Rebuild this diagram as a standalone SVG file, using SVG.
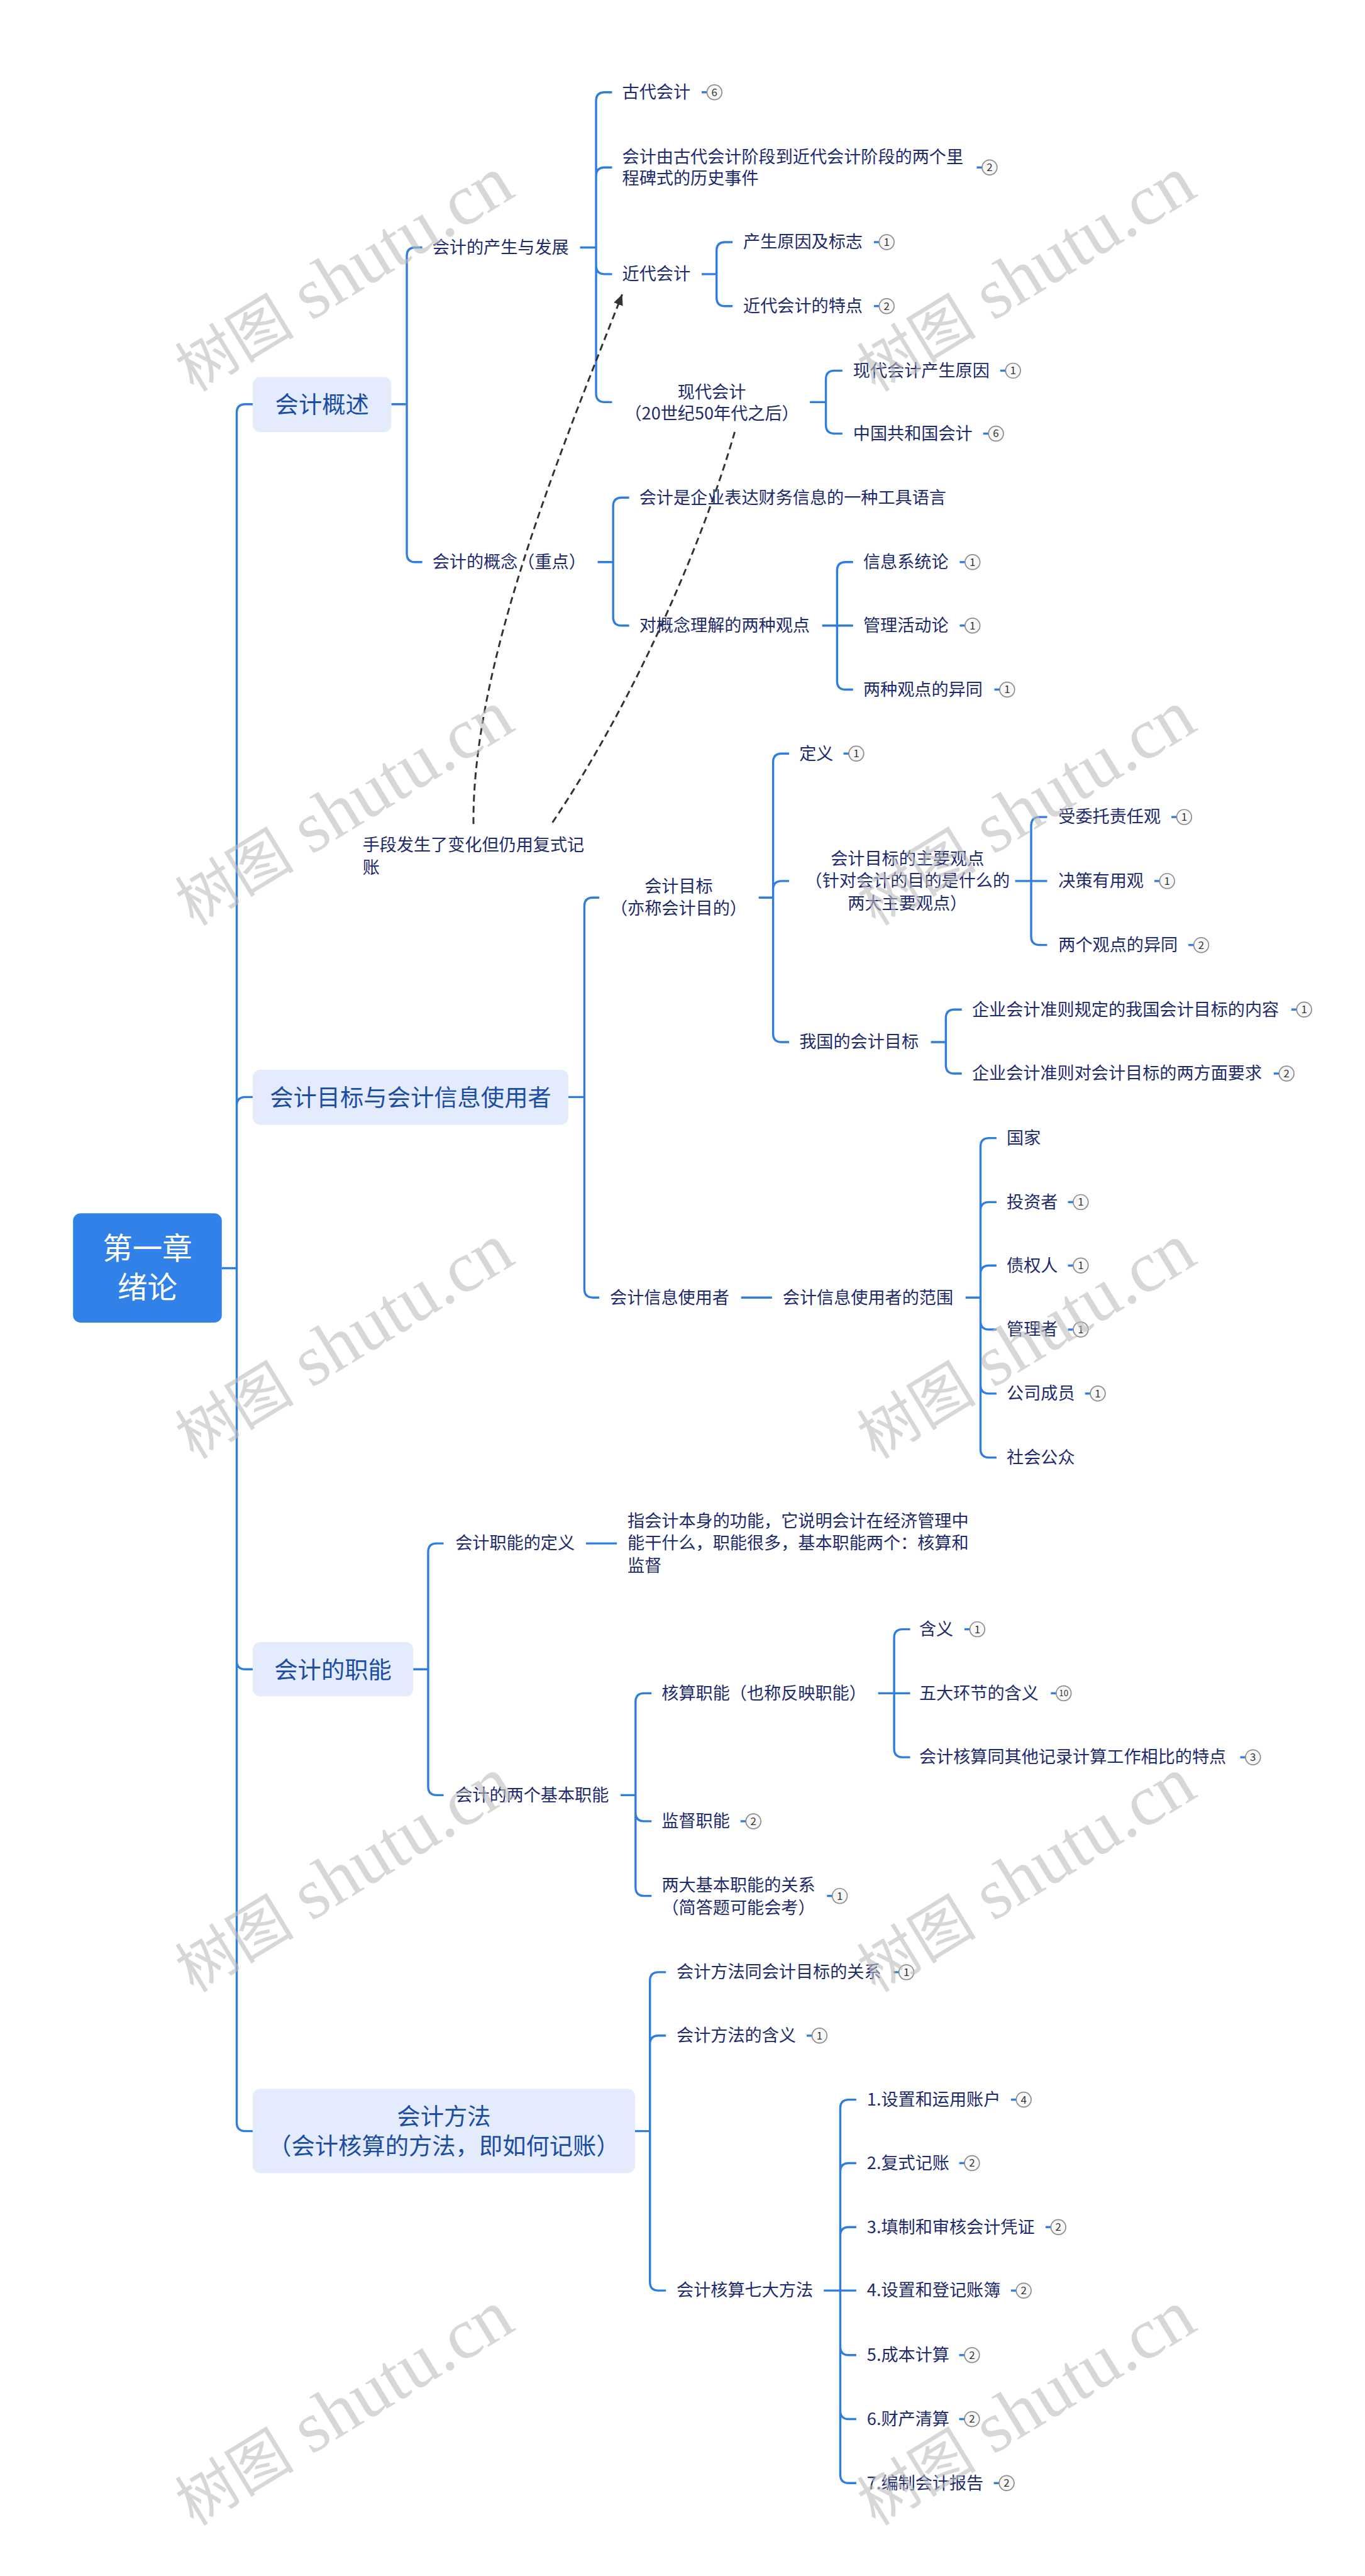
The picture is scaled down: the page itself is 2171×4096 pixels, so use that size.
<svg xmlns="http://www.w3.org/2000/svg" width="2171" height="4096" viewBox="0 0 2171 4096">
<style>
text{font-family:"Noto Sans CJK SC","Noto Sans",sans-serif}
.t{font-size:32px;fill:#1e2a6e}
.m{text-anchor:middle}
.l1{font-size:44px;fill:#1b4ea3;text-anchor:middle}
.rt{font-size:56px;fill:#ffffff;text-anchor:middle}
.box{fill:#e3ebfc}
.rbox{fill:#3281e8}
.c{fill:none;stroke:#2f7de1;stroke-width:4}
.d{fill:none;stroke:#333333;stroke-width:3.5;stroke-dasharray:13 8}
.bc{fill:#f8f8f8;stroke:#8c8c8c;stroke-width:2}
.bn{font-size:20px;fill:#333333;text-anchor:middle}
.wm{fill:#bdbdbd;fill-opacity:0.6;font-family:"Liberation Serif","Noto Sans CJK SC",serif;font-size:135px;text-anchor:middle}
</style>
<defs>
<g id="bg"><path class="c" d="M-24,0H-14"/><circle class="bc" r="14"/></g>
<marker id="arr" markerUnits="userSpaceOnUse" markerWidth="24" markerHeight="20" refX="20" refY="10" orient="auto" viewBox="0 0 24 20"><path d="M0,1 L20,10 L0,19 Z" fill="#333333"/></marker>
</defs>
<rect width="2171" height="4096" fill="#ffffff"/>
<g transform="scale(0.848)">
<g id="connectors">
<path class="c" d="M416,2378H444M444,774V3980M444,774Q444,758 460,758H474M444,2073Q444,2057 460,2057H474M444,3114Q444,3130 460,3130H474M444,3980Q444,3996 460,3996H474"/>
<path class="c" d="M734,758H763M763,480V1038M763,480Q763,464 779,464H792M763,1038Q763,1054 779,1054H792"/>
<path class="c" d="M1088,464H1118M1118,189V738M1118,189Q1118,173 1134,173H1148M1118,330Q1118,314 1134,314H1148M1118,498Q1118,514 1134,514H1148M1118,738Q1118,754 1134,754H1148"/>
<path class="c" d="M1316,514H1344M1344,470V558M1344,470Q1344,454 1360,454H1374M1344,558Q1344,574 1360,574H1374"/>
<path class="c" d="M1519,754H1549M1549,711V797M1549,711Q1549,695 1565,695H1580M1549,797Q1549,813 1565,813H1580"/>
<path class="c" d="M1121,1054H1150M1150,949V1157M1150,949Q1150,933 1166,933H1180M1150,1157Q1150,1173 1166,1173H1180"/>
<path class="c" d="M1542,1173H1570M1570,1070V1277M1570,1070Q1570,1054 1586,1054H1600M1570,1173H1600M1570,1277Q1570,1293 1586,1293H1600"/>
<path class="c" d="M1066,2057H1096M1096,1699V2417M1096,1699Q1096,1683 1112,1683H1124M1096,2417Q1096,2433 1112,2433H1124"/>
<path class="c" d="M1423,1683H1450M1450,1429V1938M1450,1429Q1450,1413 1466,1413H1480M1450,1668Q1450,1652 1466,1652H1480M1450,1938Q1450,1954 1466,1954H1480"/>
<path class="c" d="M1904,1652H1934M1934,1548V1756M1934,1548Q1934,1532 1950,1532H1964M1934,1652H1964M1934,1756Q1934,1772 1950,1772H1964"/>
<path class="c" d="M1746,1954H1774M1774,1909V1997M1774,1909Q1774,1893 1790,1893H1804M1774,1997Q1774,2013 1790,2013H1804"/>
<path class="c" d="M1390,2433H1448M1811,2433H1839M1839,2150V2717M1839,2150Q1839,2134 1855,2134H1869M1839,2270Q1839,2254 1855,2254H1869M1839,2389Q1839,2373 1855,2373H1869M1839,2477Q1839,2493 1855,2493H1869M1839,2597Q1839,2613 1855,2613H1869M1839,2717Q1839,2733 1855,2733H1869"/>
<path class="c" d="M775,3130H803M803,2910V3350M803,2910Q803,2894 819,2894H832M803,3350Q803,3366 819,3366H832M1099,2894H1157"/>
<path class="c" d="M1164,3366H1192M1192,3191V3539M1192,3191Q1192,3175 1208,3175H1222M1192,3399Q1192,3415 1208,3415H1222M1192,3539Q1192,3555 1208,3555H1222"/>
<path class="c" d="M1647,3175H1677M1677,3071V3279M1677,3071Q1677,3055 1693,3055H1707M1677,3175H1707M1677,3279Q1677,3295 1693,3295H1707"/>
<path class="c" d="M1191,3996H1219M1219,3714V4279M1219,3714Q1219,3698 1235,3698H1249M1219,3833Q1219,3817 1235,3817H1249M1219,4279Q1219,4295 1235,4295H1249"/>
<path class="c" d="M1545,4295H1576M1576,3953V4640M1576,3953Q1576,3937 1592,3937H1606M1576,4072Q1576,4056 1592,4056H1606M1576,4192Q1576,4176 1592,4176H1606M1576,4295H1606M1576,4400Q1576,4416 1592,4416H1606M1576,4520Q1576,4536 1592,4536H1606M1576,4640Q1576,4656 1592,4656H1606"/>
<path class="d" d="M888,1545C885,1250 1050,850 1167,552" marker-end="url(#arr)"/>
<path class="d" d="M1378,810C1325,995 1200,1300 1033,1547"/>
</g>
<g id="n-root"><rect class="rbox" x="137" y="2275" width="279" height="205" rx="14"/><text class="rt" x="276.5" y="2361">第一章</text><text class="rt" x="276.5" y="2434">绪论</text></g>
<g id="n-a"><rect class="box" x="474" y="707" width="260" height="103" rx="14"/><text class="l1" x="604" y="775">会计概述</text></g>
<g id="n-b"><rect class="box" x="474" y="2006" width="592" height="103" rx="14"/><text class="l1" x="770" y="2074">会计目标与会计信息使用者</text></g>
<g id="n-c"><rect class="box" x="474" y="3079" width="301" height="102" rx="14"/><text class="l1" x="624.5" y="3147">会计的职能</text></g>
<g id="n-d"><rect class="box" x="474" y="3917" width="717" height="158" rx="14"/><text class="l1" x="832.5" y="3985">会计方法</text><text class="l1" x="832.5" y="4040">（会计核算的方法，即如何记账）</text></g>
<g id="n-a1"><text class="t" x="811" y="475">会计的产生与发展</text></g>
<g id="n-a1-1"><text class="t" x="1167" y="184">古代会计</text><use href="#bg" x="1340" y="173"/><text class="bn" x="1340" y="180">6</text></g>
<g id="n-a1-2"><text class="t" x="1167" y="305">会计由古代会计阶段到近代会计阶段的两个里</text><text class="t" x="1167" y="345">程碑式的历史事件</text><use href="#bg" x="1856" y="314"/><text class="bn" x="1856" y="321">2</text></g>
<g id="n-a1-3"><text class="t" x="1167" y="525">近代会计</text></g>
<g id="n-a1-3-1"><text class="t" x="1394" y="465">产生原因及标志</text><use href="#bg" x="1663" y="454"/><text class="bn" x="1663" y="461">1</text></g>
<g id="n-a1-3-2"><text class="t" x="1394" y="585">近代会计的特点</text><use href="#bg" x="1663" y="574"/><text class="bn" x="1663" y="581">2</text></g>
<g id="n-a1-4"><text class="t m" x="1335" y="746">现代会计</text><text class="t m" x="1335" y="786">（20世纪50年代之后）</text></g>
<g id="n-a1-4-1"><text class="t" x="1600" y="706">现代会计产生原因</text><use href="#bg" x="1900" y="695"/><text class="bn" x="1900" y="702">1</text></g>
<g id="n-a1-4-2"><text class="t" x="1600" y="824">中国共和国会计</text><use href="#bg" x="1868" y="813"/><text class="bn" x="1868" y="820">6</text></g>
<g id="n-a2"><text class="t" x="811" y="1065">会计的概念（重点）</text></g>
<g id="n-a2-1"><text class="t" x="1199" y="944">会计是企业表达财务信息的一种工具语言</text></g>
<g id="n-a2-2"><text class="t" x="1199" y="1184">对概念理解的两种观点</text></g>
<g id="n-a2-2-1"><text class="t" x="1619" y="1065">信息系统论</text><use href="#bg" x="1824" y="1054"/><text class="bn" x="1824" y="1061">1</text></g>
<g id="n-a2-2-2"><text class="t" x="1619" y="1184">管理活动论</text><use href="#bg" x="1824" y="1173"/><text class="bn" x="1824" y="1180">1</text></g>
<g id="n-a2-2-3"><text class="t" x="1619" y="1304">两种观点的异同</text><use href="#bg" x="1889" y="1293"/><text class="bn" x="1889" y="1300">1</text></g>
<g id="n-float"><text class="t" x="680" y="1596">手段发生了变化但仍用复式记</text><text class="t" x="680" y="1638">账</text></g>
<g id="n-b1"><text class="t m" x="1273" y="1673">会计目标</text><text class="t m" x="1273" y="1715">（亦称会计目的）</text></g>
<g id="n-b1-1"><text class="t" x="1499" y="1424">定义</text><use href="#bg" x="1606" y="1413"/><text class="bn" x="1606" y="1420">1</text></g>
<g id="n-b1-2"><text class="t m" x="1702" y="1621">会计目标的主要观点</text><text class="t m" x="1702" y="1663">（针对会计的目的是什么的</text><text class="t m" x="1702" y="1705">两大主要观点）</text></g>
<g id="n-b1-2-1"><text class="t" x="1985" y="1543">受委托责任观</text><use href="#bg" x="2221" y="1532"/><text class="bn" x="2221" y="1539">1</text></g>
<g id="n-b1-2-2"><text class="t" x="1985" y="1663">决策有用观</text><use href="#bg" x="2189" y="1652"/><text class="bn" x="2189" y="1659">1</text></g>
<g id="n-b1-2-3"><text class="t" x="1985" y="1783">两个观点的异同</text><use href="#bg" x="2253" y="1772"/><text class="bn" x="2253" y="1779">2</text></g>
<g id="n-b1-3"><text class="t" x="1499" y="1965">我国的会计目标</text></g>
<g id="n-b1-3-1"><text class="t" x="1823" y="1904">企业会计准则规定的我国会计目标的内容</text><use href="#bg" x="2446" y="1893"/><text class="bn" x="2446" y="1900">1</text></g>
<g id="n-b1-3-2"><text class="t" x="1823" y="2024">企业会计准则对会计目标的两方面要求</text><use href="#bg" x="2413" y="2013"/><text class="bn" x="2413" y="2020">2</text></g>
<g id="n-b2"><text class="t" x="1144" y="2444">会计信息使用者</text></g>
<g id="n-b2-1"><text class="t" x="1468" y="2444">会计信息使用者的范围</text></g>
<g id="n-b2-1-1"><text class="t" x="1888" y="2145">国家</text></g>
<g id="n-b2-1-2"><text class="t" x="1888" y="2265">投资者</text><use href="#bg" x="2027" y="2254"/><text class="bn" x="2027" y="2261">1</text></g>
<g id="n-b2-1-3"><text class="t" x="1888" y="2384">债权人</text><use href="#bg" x="2027" y="2373"/><text class="bn" x="2027" y="2380">1</text></g>
<g id="n-b2-1-4"><text class="t" x="1888" y="2504">管理者</text><use href="#bg" x="2027" y="2493"/><text class="bn" x="2027" y="2500">1</text></g>
<g id="n-b2-1-5"><text class="t" x="1888" y="2624">公司成员</text><use href="#bg" x="2059" y="2613"/><text class="bn" x="2059" y="2620">1</text></g>
<g id="n-b2-1-6"><text class="t" x="1888" y="2744">社会公众</text></g>
<g id="n-c1"><text class="t" x="854" y="2905">会计职能的定义</text></g>
<g id="n-c1-1"><text class="t" x="1177" y="2863">指会计本身的功能，它说明会计在经济管理中</text><text class="t" x="1177" y="2905">能干什么，职能很多，基本职能两个：核算和</text><text class="t" x="1177" y="2947">监督</text></g>
<g id="n-c2"><text class="t" x="854" y="3377">会计的两个基本职能</text></g>
<g id="n-c2-1"><text class="t" x="1241" y="3186">核算职能（也称反映职能）</text></g>
<g id="n-c2-1-1"><text class="t" x="1724" y="3066">含义</text><use href="#bg" x="1833" y="3055"/><text class="bn" x="1833" y="3062">1</text></g>
<g id="n-c2-1-2"><text class="t" x="1724" y="3186">五大环节的含义</text><use href="#bg" x="1995" y="3175"/><text class="bn" x="1995" y="3181" style="font-size:16px">10</text></g>
<g id="n-c2-1-3"><text class="t" x="1724" y="3306">会计核算同其他记录计算工作相比的特点</text><use href="#bg" x="2350" y="3295"/><text class="bn" x="2350" y="3302">3</text></g>
<g id="n-c2-2"><text class="t" x="1241" y="3426">监督职能</text><use href="#bg" x="1413" y="3415"/><text class="bn" x="1413" y="3422">2</text></g>
<g id="n-c2-3"><text class="t m" x="1385" y="3546">两大基本职能的关系</text><text class="t m" x="1385" y="3588">（简答题可能会考）</text><use href="#bg" x="1575" y="3555"/><text class="bn" x="1575" y="3562">1</text></g>
<g id="n-d1"><text class="t" x="1269" y="3709">会计方法同会计目标的关系</text><use href="#bg" x="1700" y="3698"/><text class="bn" x="1700" y="3705">1</text></g>
<g id="n-d2"><text class="t" x="1269" y="3828">会计方法的含义</text><use href="#bg" x="1537" y="3817"/><text class="bn" x="1537" y="3824">1</text></g>
<g id="n-d3"><text class="t" x="1269" y="4306">会计核算七大方法</text></g>
<g id="n-d3-1"><text class="t" x="1626" y="3948">1.设置和运用账户</text><use href="#bg" x="1920" y="3937"/><text class="bn" x="1920" y="3944">4</text></g>
<g id="n-d3-2"><text class="t" x="1626" y="4067">2.复式记账</text><use href="#bg" x="1823" y="4056"/><text class="bn" x="1823" y="4063">2</text></g>
<g id="n-d3-3"><text class="t" x="1626" y="4187">3.填制和审核会计凭证</text><use href="#bg" x="1985" y="4176"/><text class="bn" x="1985" y="4183">2</text></g>
<g id="n-d3-4"><text class="t" x="1626" y="4306">4.设置和登记账簿</text><use href="#bg" x="1920" y="4295"/><text class="bn" x="1920" y="4302">2</text></g>
<g id="n-d3-5"><text class="t" x="1626" y="4427">5.成本计算</text><use href="#bg" x="1823" y="4416"/><text class="bn" x="1823" y="4423">2</text></g>
<g id="n-d3-6"><text class="t" x="1626" y="4547">6.财产清算</text><use href="#bg" x="1823" y="4536"/><text class="bn" x="1823" y="4543">2</text></g>
<g id="n-d3-7"><text class="t" x="1626" y="4667">7.编制会计报告</text><use href="#bg" x="1888" y="4656"/><text class="bn" x="1888" y="4663">2</text></g>
<g id="watermarks">
<text class="wm" transform="translate(646,517) rotate(-31.4)" y="40"><tspan style="font-size:112px">树图</tspan> shutu.cn</text>
<text class="wm" transform="translate(1925,517) rotate(-31.4)" y="40"><tspan style="font-size:112px">树图</tspan> shutu.cn</text>
<text class="wm" transform="translate(646,1518) rotate(-31.4)" y="40"><tspan style="font-size:112px">树图</tspan> shutu.cn</text>
<text class="wm" transform="translate(1925,1518) rotate(-31.4)" y="40"><tspan style="font-size:112px">树图</tspan> shutu.cn</text>
<text class="wm" transform="translate(646,2518) rotate(-31.4)" y="40"><tspan style="font-size:112px">树图</tspan> shutu.cn</text>
<text class="wm" transform="translate(1925,2518) rotate(-31.4)" y="40"><tspan style="font-size:112px">树图</tspan> shutu.cn</text>
<text class="wm" transform="translate(646,3518) rotate(-31.4)" y="40"><tspan style="font-size:112px">树图</tspan> shutu.cn</text>
<text class="wm" transform="translate(1925,3518) rotate(-31.4)" y="40"><tspan style="font-size:112px">树图</tspan> shutu.cn</text>
<text class="wm" transform="translate(646,4518) rotate(-31.4)" y="40"><tspan style="font-size:112px">树图</tspan> shutu.cn</text>
<text class="wm" transform="translate(1925,4518) rotate(-31.4)" y="40"><tspan style="font-size:112px">树图</tspan> shutu.cn</text>
</g>
</g>
</svg>
